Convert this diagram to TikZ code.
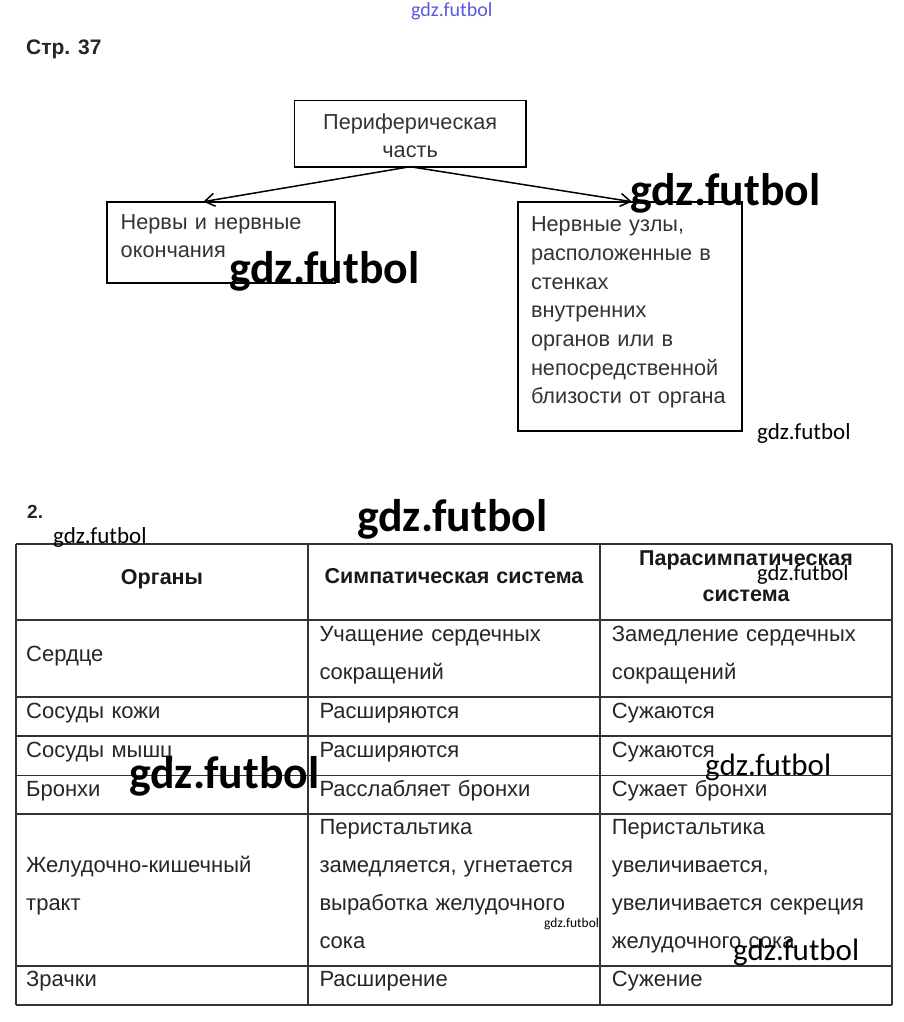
\documentclass[tikz,border=0pt]{standalone}
\usepackage{fontspec}
\setmainfont{Liberation Sans}
\newfontfamily\wmfont{Carlito}
\usetikzlibrary{arrows.meta,positioning}

\begin{document}
\begin{tikzpicture}[x=1pt,y=-1pt,>={Straight Barb[length=10pt,width=13pt]},
  box/.style={draw,line width=1.6pt,outer sep=0pt,inner xsep=14pt,inner ysep=0pt,align=left,text=black!80,font=\fontsize{21.7}{28}\selectfont},
  cell/.style={anchor=base west,inner sep=0pt,align=left,text width=272pt,text=black!85,font=\fontsize{22}{38}\selectfont},
  head/.style={anchor=base,inner sep=0pt,align=center,text width=280pt,text=black!90,font=\bfseries\fontsize{21.5}{36}\selectfont},
  grid/.style={line width=1.1pt,black!80},
  wm/.style={anchor=base west,inner sep=0pt}]
\fill[white] (0,0) rectangle (904,1022);
\useasboundingbox (0,0) rectangle (904,1022);

\node[anchor=base west,inner sep=0pt,font=\bfseries\fontsize{21}{24}\selectfont,text=black!85] (page) at (26,55) {Стр. 37};

% scheme
\node[box,align=center,text width=203.7pt,text height=28.6pt,text depth=37.4pt,anchor=north west] (periph) at (294.3,100.7) {Периферическая\\часть};
\node[box,text width=200.3pt,text height=27.6pt,text depth=53.4pt,anchor=north west] (nerves) at (106.7,201.7) {Нервы и нервные\\окончания};
\node[box,inner xsep=13.3pt,text width=197.7pt,text height=30pt,text depth=199.3pt,font=\fontsize{21.7}{28.7}\selectfont,right=182.7pt of nerves.north east,anchor=north west] (ganglia)
  {Нервные узлы,\\расположенные в\\стенках\\внутренних\\органов или в\\непосредственной\\близости от органа};

\draw[->,line width=1.5pt] (periph.south) -- ([xshift=-17.6pt]nerves.north);
\draw[->,line width=1.5pt] (periph.south) -- ([xshift=2pt]ganglia.north);

% table
\node[anchor=base west,inner sep=0pt,font=\bfseries\fontsize{19}{24}\selectfont,text=black!85] (num) at (27,518) {2.};
\foreach \y in {544,620,697,736,775.5,814,966,1005}
  \draw[grid] (16,\y) -- (892,\y);
\foreach \x in {16,308,600,892}
  \draw[grid] (\x,544) -- (\x,1005);

\node[head] (h1) at (162,584) {Органы};
\node[head] (h2) at (454,583.5) {Симпатическая система};
\node[head] (h3) at (746,565) {Парасимпатическая\\система};

\node[cell] (o1) at (26,661) {Сердце};
\node[cell] (o2) at (26,718.3) {Сосуды кожи};
\node[cell] (o3) at (26,757.7) {Сосуды мышц};
\node[cell] (o4) at (26,796.7) {Бронхи};
\node[cell] (o5) at (26,872.7) {Желудочно-кишечный\\тракт};
\node[cell] (o6) at (26,986.7) {Зрачки};

\node[cell] (s1) at (319.3,641) {Учащение сердечных\\сокращений};
\node[cell] (s2) at (319.3,718.3) {Расширяются};
\node[cell] (s3) at (319.3,757.7) {Расширяются};
\node[cell] (s4) at (319.3,796.7) {Расслабляет бронхи};
\node[cell] (s5) at (319.3,834.3) {Перистальтика\\замедляется, угнетается\\выработка желудочного\\сока};
\node[cell] (s6) at (319.3,986.7) {Расширение};

\node[cell] (p1) at (611.7,641) {Замедление сердечных\\сокращений};
\node[cell] (p2) at (611.7,718.3) {Сужаются};
\node[cell] (p3) at (611.7,757.7) {Сужаются};
\node[cell] (p4) at (611.7,796.7) {Сужает бронхи};
\node[cell] (p5) at (611.7,834.3) {Перистальтика\\увеличивается,\\увеличивается секреция\\желудочного сока};
\node[cell] (p6) at (611.7,986.7) {Сужение};

% watermarks
\node[wm,font=\wmfont\fontsize{20}{20}\selectfont,text={rgb,255:red,90;green,90;blue,225}] (wm0) at (411,17) {gdz.futbol};
\node[wm,font=\wmfont\bfseries\fontsize{45.7}{46}\selectfont] (wm1) at (630,205) {gdz.futbol};
\node[wm,font=\wmfont\bfseries\fontsize{45.7}{46}\selectfont] (wm2) at (229,283) {gdz.futbol};
\node[wm,font=\wmfont\fontsize{23}{23}\selectfont] (wm3) at (757,439) {gdz.futbol};
\node[wm,font=\wmfont\bfseries\fontsize{45.7}{46}\selectfont] (wm4) at (357,531) {gdz.futbol};
\node[wm,font=\wmfont\fontsize{23}{23}\selectfont] (wm5) at (53,543) {gdz.futbol};
\node[wm,font=\wmfont\fontsize{22.5}{23}\selectfont] (wm6) at (757,580) {gdz.futbol};
\node[wm,font=\wmfont\bfseries\fontsize{45.7}{46}\selectfont] (wm7) at (129,788) {gdz.futbol};
\node[wm,font=\wmfont\fontsize{31}{31}\selectfont] (wm8) at (705,775) {gdz.futbol};
\node[wm,font=\wmfont\fontsize{13.5}{14}\selectfont] (wm9) at (544,927) {gdz.futbol};
\node[wm,font=\wmfont\fontsize{31}{31}\selectfont] (wm10) at (733,960) {gdz.futbol};
\end{tikzpicture}
\end{document}
